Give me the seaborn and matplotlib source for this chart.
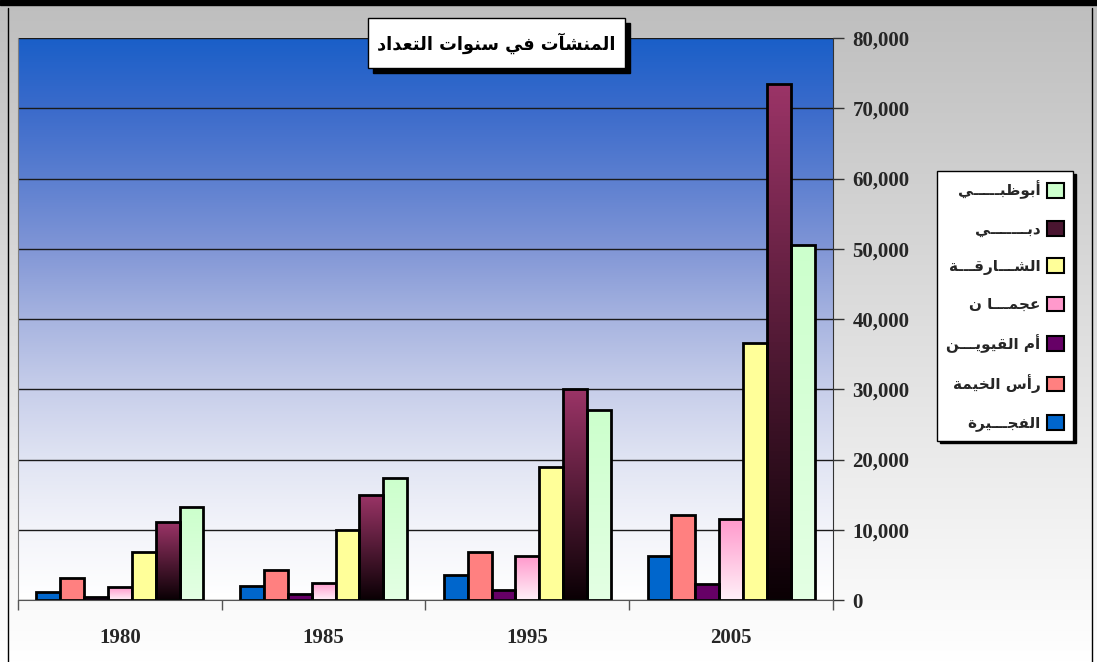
import numpy as np
import pandas as pd
import seaborn as sns
import matplotlib
matplotlib.use("Agg")
import matplotlib.pyplot as plt
from matplotlib.colors import LinearSegmentedColormap
from matplotlib.patches import Patch, Rectangle
from matplotlib.lines import Line2D

# --- data ---
years = ["1980", "1985", "1995", "2005"]
emirates = ["الفجـــيرة", "رأس الخيمة", "أم القيويـــن", "عجمـــا ن",
            "الشـــارقـــة", "دبـــــــي", "أبوظبـــــي"]
fujairah = [1150, 1950, 3500, 6300]
ras_khaimah = [3100, 4200, 6800, 12100]
umm_quwain = [450, 800, 1450, 2250]
ajman = [1800, 2450, 6250, 11500]
sharjah = [6850, 10000, 18950, 36600]
dubai = [11100, 14950, 30000, 73400]
abu_dhabi = [13200, 17400, 27000, 50500]
yticks = list(range(0, 80001, 10000))
title = "المنشآت في سنوات التعداد"

colors = ["#0066CC", "#FF8080", "#660066", "#FF99CC", "#FFFF99", "#7A2550", "#CCFFCC"]
gradients = {3: ("#FF99CC", "#FFF0F8"), 5: ("#9B3467", "#0A0004"), 6: ("#CCFFCC", "#E4FFE4")}

# --- tiny arabic shaper (matplotlib has no complex text layout) ---
FORMS = {'ء': (0xFE80, 1), 'آ': (0xFE81, 2), 'أ': (0xFE83, 2), 'ؤ': (0xFE85, 2),
         'إ': (0xFE87, 2), 'ئ': (0xFE89, 4), 'ا': (0xFE8D, 2), 'ب': (0xFE8F, 4),
         'ة': (0xFE93, 2), 'ت': (0xFE95, 4), 'ث': (0xFE99, 4), 'ج': (0xFE9D, 4),
         'ح': (0xFEA1, 4), 'خ': (0xFEA5, 4), 'د': (0xFEA9, 2), 'ذ': (0xFEAB, 2),
         'ر': (0xFEAD, 2), 'ز': (0xFEAF, 2), 'س': (0xFEB1, 4), 'ش': (0xFEB5, 4),
         'ص': (0xFEB9, 4), 'ض': (0xFEBD, 4), 'ط': (0xFEC1, 4), 'ظ': (0xFEC5, 4),
         'ع': (0xFEC9, 4), 'غ': (0xFECD, 4), 'ف': (0xFED1, 4), 'ق': (0xFED5, 4),
         'ك': (0xFED9, 4), 'ل': (0xFEDD, 4), 'م': (0xFEE1, 4), 'ن': (0xFEE5, 4),
         'ه': (0xFEE9, 4), 'و': (0xFEED, 2), 'ى': (0xFEEF, 2), 'ي': (0xFEF1, 4)}
LAM_ALEF = {'آ': 0xFEF5, 'أ': 0xFEF7, 'إ': 0xFEF9, 'ا': 0xFEFB}
TATWEEL = '\u0640'


def joins_next(ch):
    return ch == TATWEEL or (ch in FORMS and FORMS[ch][1] == 4)


def joins_prev(ch):
    return ch == TATWEEL or (ch in FORMS and FORMS[ch][1] > 1)


def shape(text):
    out = []
    i = 0
    while i < len(text):
        c = text[i]
        prev = text[i - 1] if i > 0 else ''
        nxt = text[i + 1] if i + 1 < len(text) else ''
        jp = joins_next(prev) and joins_prev(c)
        if c == 'ل' and nxt in LAM_ALEF:
            out.append(chr(LAM_ALEF[nxt] + (1 if jp else 0)))
            i += 2
            continue
        if c in FORMS:
            base, n = FORMS[c]
            jn = n == 4 and joins_prev(nxt)
            if n == 1:
                f = 0
            elif n == 2:
                f = 1 if jp else 0
            else:
                f = 3 if (jp and jn) else 2 if jn else 1 if jp else 0
            out.append(chr(base + f))
        else:
            out.append(c)
        i += 1
    return ''.join(reversed(out))


df = pd.DataFrame({
    "year": years * 7,
    "emirate": [e for e in emirates for _ in years],
    "value": fujairah + ras_khaimah + umm_quwain + ajman + sharjah + dubai + abu_dhabi,
})

sns.set_style("white")
W, H = 1097, 662
fig = plt.figure(figsize=(W / 100, H / 100), dpi=100)

# figure background: grey fading to white
bg = fig.add_axes([0, 0, 1, 1], zorder=-10)
bg.imshow(np.linspace(0, 1, 256).reshape(-1, 1), cmap=LinearSegmentedColormap.from_list("g", ["#FFFFFF", "#BEBEBE"]),
          origin="lower", aspect="auto", extent=[0, 1, 0, 1])
bg.set_axis_off()
fig.patches.append(Rectangle((0, 1 - 5 / H), 1, 5 / H, transform=fig.transFigure, color="black", zorder=5))
fig.lines.append(Line2D([8 / W, 8 / W], [0, 1 - 8 / H], transform=fig.transFigure, color="black", lw=1))
fig.lines.append(Line2D([1092 / W, 1092 / W], [0, 1 - 8 / H], transform=fig.transFigure, color="black", lw=1))

ax = fig.add_axes([18 / W, 1 - 600 / H, 815 / W, 562 / H])
ax.set_facecolor("none")
sns.barplot(data=df, x="year", y="value", hue="emirate", hue_order=emirates, palette=colors,
            saturation=1, width=0.82, edgecolor="black", linewidth=2, legend=False, ax=ax, zorder=2)

# plot area gradient (blue top -> white bottom)
bg_cmap = LinearSegmentedColormap.from_list("b", ["#FFFFFF", "#F3F4FA", "#E0E4F3", "#C7CEEA", "#A7B4E0",
                                                  "#8196D6", "#5C7FD0", "#3B6BCB", "#1A5FC8"])
ax.imshow(np.linspace(0, 1, 256).reshape(-1, 1), cmap=bg_cmap, origin="lower", aspect="auto",
          extent=[-0.5, 3.5, 0, 80000], zorder=0.1)

# gradient bars
for idx, (top, bottom) in gradients.items():
    cm = LinearSegmentedColormap.from_list("bar%d" % idx, [bottom, top])
    for p in ax.containers[idx]:
        x, y, w, h = p.get_x(), p.get_y(), p.get_width(), p.get_height()
        im = ax.imshow(np.linspace(0, 1, 128).reshape(-1, 1), cmap=cm, origin="lower", aspect="auto",
                       extent=[x, x + w, y, y + h], zorder=1.5)
        im.set_clip_path(p)
        p.set_facecolor("none")

ax.set_xlim(-0.5, 3.5)
ax.set_ylim(0, 80000)
ax.set_xlabel("")
ax.set_ylabel("")
ax.set_axisbelow(True)
ax.yaxis.grid(True, color="#1A1A1A", lw=1)
ax.yaxis.tick_right()
ax.set_yticks(yticks)
ax.set_yticklabels(["{:,}".format(v) for v in yticks])
ax.set_xticks([-0.5, 0.5, 1.5, 2.5, 3.5])
ax.set_xticklabels([])
ax.set_xticks(range(len(years)), minor=True)
ax.set_xticklabels(years, minor=True)
ax.tick_params(axis="y", right=True, direction="out", length=8, width=1, color="#333333", pad=6)
ax.tick_params(axis="x", which="major", bottom=True, direction="out", length=7, width=1, color="#555555")
ax.tick_params(axis="x", which="minor", length=0, pad=20)
for lab in ax.get_yticklabels() + ax.get_xticklabels(minor=True):
    lab.set_fontfamily("Liberation Serif")
    lab.set_fontweight("bold")
    lab.set_fontsize(15)
ax.spines["left"].set_color("#808080")
ax.spines["right"].set_color("#333333")
ax.spines["bottom"].set_color("#555555")
ax.spines["top"].set_visible(False)

# legend (right to left: marker after text)
handles = [Patch(facecolor=c, edgecolor="black", lw=1.5) for c in colors]
handles[5] = Patch(facecolor="#4A1530", edgecolor="black", lw=1.5)
leg = fig.legend(handles[::-1], [shape(e) for e in emirates[::-1]], loc="center",
                 bbox_to_anchor=(1005 / W, 1 - 306 / H), markerfirst=False,
                 prop={"family": "DejaVu Sans", "weight": "bold", "size": 11},
                 handlelength=1.1, handleheight=1.1, handletextpad=0.4, labelspacing=1.42,
                 frameon=True, fancybox=False, edgecolor="black", facecolor="white", framealpha=1,
                 borderpad=0.6, shadow={"facecolor": "black", "edgecolor": "black", "alpha": 1})
leg.get_frame().set_linewidth(1)

# title box with drop shadow (box drawn in pixel coords of the figure)
bx0, by0, bx1, by1 = 368, 18, 625, 68
fig.patches.append(Rectangle(((bx0 + 5) / W, 1 - (by1 + 5) / H), (bx1 - bx0) / W, (by1 - by0) / H,
                             transform=fig.transFigure, fc="black", ec="black", zorder=6))
fig.patches.append(Rectangle((bx0 / W, 1 - by1 / H), (bx1 - bx0) / W, (by1 - by0) / H,
                             transform=fig.transFigure, fc="white", ec="black", lw=1, zorder=7))
fig.text((bx0 + bx1) / 2 / W, 1 - (by0 + by1) / 2 / H, shape(title), ha="center", va="center",
         fontsize=12.8, fontweight="bold", family="DejaVu Sans", color="black", zorder=8)

fig.savefig("out.png", dpi=100)
